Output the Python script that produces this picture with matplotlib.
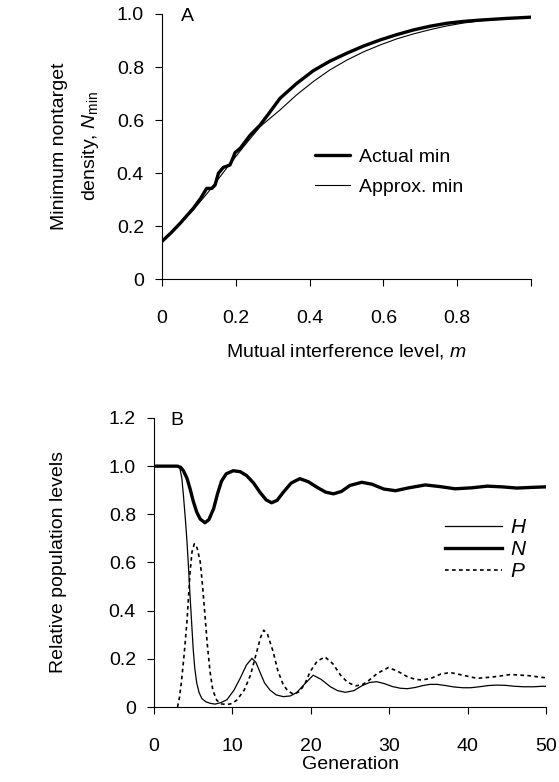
"""Two stacked panels: (A) minimum nontarget density vs mutual interference,
(B) relative population levels H, N, P over generations."""

import matplotlib

matplotlib.use("Agg")

import matplotlib.pyplot as plt  # noqa: E402
from matplotlib.ticker import FuncFormatter  # noqa: E402

plt.rcParams["font.family"] = ["Liberation Sans", "DejaVu Sans"]
plt.rcParams["mathtext.fontset"] = "custom"
plt.rcParams["mathtext.rm"] = "Liberation Sans"
plt.rcParams["mathtext.it"] = "Liberation Sans:italic"

# ---- panel A data ----
m_actual = [0.0, 0.025, 0.049, 0.085, 0.105, 0.121, 0.135, 0.144, 0.153, 0.166,
            0.184, 0.192, 0.198, 0.212, 0.239, 0.266, 0.293, 0.320, 0.365, 0.410,
            0.455, 0.501, 0.546, 0.591, 0.636, 0.682, 0.727, 0.772, 0.817, 0.862,
            0.93, 1.0]
n_actual = [0.142, 0.175, 0.210, 0.267, 0.305, 0.342, 0.342, 0.355, 0.399, 0.421,
            0.430, 0.455, 0.477, 0.493, 0.543, 0.581, 0.631, 0.682, 0.738, 0.786,
            0.822, 0.852, 0.879, 0.902, 0.922, 0.940, 0.954, 0.965, 0.972, 0.977,
            0.983, 0.988]
m_approx = [0.0, 0.04, 0.085, 0.130, 0.175, 0.221, 0.266, 0.320, 0.365, 0.410,
            0.455, 0.501, 0.546, 0.591, 0.636, 0.682, 0.727, 0.772, 0.817, 0.862,
            0.93, 1.0]
n_approx = [0.142, 0.195, 0.261, 0.336, 0.418, 0.499, 0.575, 0.638, 0.695, 0.745,
            0.789, 0.826, 0.857, 0.883, 0.906, 0.925, 0.941, 0.955, 0.966, 0.974,
            0.982, 0.988]

# ---- panel B data ----
gen_h = [0, 3.0, 3.3, 3.55, 3.75, 4.0, 4.2, 4.4, 4.6, 4.8, 5.0, 5.2, 5.45, 5.75,
         6.1, 6.6, 7.2, 7.8, 8.5, 9.3, 10.2, 11.0, 11.8, 12.5, 13.0, 13.5, 14.1,
         14.8, 15.6, 16.5, 17.4, 18.2, 19.2, 20.3, 21.3, 22.5, 23.4, 24.4, 25.5,
         26.5, 27.5, 28.4, 29.4, 30.4, 31.4, 32.3, 33.3, 34.3, 35.2, 36.1, 37.2,
         38.3, 39.4, 40.4, 41.5, 42.6, 43.7, 44.8, 46.0, 47.2, 48.4, 49.5, 50]
h_level = [1.0, 1.0, 0.99, 0.95, 0.88, 0.78, 0.69, 0.58, 0.46, 0.35, 0.24, 0.16,
           0.10, 0.06, 0.035, 0.022, 0.015, 0.012, 0.018, 0.03, 0.07, 0.12, 0.175,
           0.202, 0.185, 0.146, 0.10, 0.07, 0.05, 0.043, 0.046, 0.06, 0.095, 0.132,
           0.115, 0.084, 0.068, 0.061, 0.068, 0.088, 0.102, 0.105, 0.097, 0.085,
           0.078, 0.076, 0.081, 0.089, 0.094, 0.094, 0.089, 0.083, 0.080, 0.080,
           0.084, 0.089, 0.091, 0.090, 0.086, 0.084, 0.084, 0.086, 0.086]
gen_n = [0, 3.0, 3.4, 3.75, 4.2, 4.6, 5.0, 5.45, 5.9, 6.5, 7.0, 7.6, 8.1, 8.6, 9.2,
         10.1, 11.0, 11.8, 12.7, 13.5, 14.3, 15.0, 15.7, 16.5, 17.5, 18.6, 19.7,
         20.8, 21.9, 22.9, 23.9, 25.0, 26.5, 27.8, 29.3, 30.8, 32.5, 34.6, 36.5,
         38.4, 40.5, 42.5, 44.4, 46.3, 48.3, 50]
n_level = [1.0, 1.0, 0.995, 0.981, 0.95, 0.906, 0.855, 0.809, 0.78, 0.765, 0.778,
           0.823, 0.885, 0.937, 0.968, 0.981, 0.977, 0.961, 0.93, 0.892, 0.86,
           0.848, 0.858, 0.892, 0.93, 0.948, 0.935, 0.912, 0.892, 0.885, 0.895,
           0.92, 0.933, 0.925, 0.905, 0.898, 0.91, 0.922, 0.915, 0.906, 0.91,
           0.917, 0.914, 0.909, 0.912, 0.914]
gen_p = [3.0, 3.25, 3.5, 3.85, 4.2, 4.6, 4.85, 5.15, 5.5, 5.9, 6.2, 6.5, 6.8,
         7.15, 7.5, 8.0, 8.6, 9.3, 10.0, 10.6, 11.5, 12.3, 13.1, 13.6, 14.0, 14.5,
         15.2, 15.8, 16.5, 17.1, 17.8, 18.6, 19.3, 19.9, 20.8, 21.8, 22.8, 23.8,
         24.7, 25.7, 26.5, 27.2, 28.5, 29.9, 31.1, 32.3, 33.3, 34.2, 35.4, 36.6,
         37.8, 39.4, 41.2, 43.3, 45.5, 47.8, 50]
p_level = [0.0, 0.04, 0.105, 0.22, 0.353, 0.56, 0.645, 0.678, 0.66, 0.602,
           0.50, 0.381, 0.26, 0.146, 0.07, 0.028, 0.013, 0.01, 0.015, 0.03, 0.07,
           0.132, 0.229, 0.29, 0.319, 0.30, 0.229, 0.15, 0.091, 0.066, 0.053,
           0.065, 0.10, 0.146, 0.19, 0.208, 0.18, 0.132, 0.102, 0.088, 0.092,
           0.105, 0.14, 0.164, 0.148, 0.126, 0.115, 0.112, 0.12, 0.137, 0.143,
           0.132, 0.119, 0.125, 0.135, 0.13, 0.121]

a_xticks = [0, 0.2, 0.4, 0.6, 0.8, 1.0]
a_xticklabels = ["0", "0.2", "0.4", "0.6", "0.8", ""]
a_yticks = [0, 0.2, 0.4, 0.6, 0.8, 1.0]
b_xticks = [0, 10, 20, 30, 40, 50]
b_yticks = [0, 0.2, 0.4, 0.6, 0.8, 1.0, 1.2]

FS = 14


def _fmt(v, _pos):
    return "0" if abs(v) < 1e-9 else f"{v:.1f}"


def _style(ax):
    for side in ("top", "right"):
        ax.spines[side].set_visible(False)
    for side in ("left", "bottom"):
        ax.spines[side].set_linewidth(0.8)
    ax.tick_params(axis="both", direction="out", length=5, width=0.8, labelsize=FS)
    ax.tick_params(axis="x", pad=17)
    ax.tick_params(axis="y", pad=8)


fig = plt.figure(figsize=(5.59, 7.82), dpi=100)
ax_a = fig.add_axes([0.2898, 0.6432, 0.660, 0.3389])
ax_b = fig.add_axes([0.2755, 0.0959, 0.7013, 0.3696])

# panel A
ax_a.plot(m_actual, n_actual, color="black", lw=2.4, label="Actual min",
          solid_capstyle="round")
ax_a.plot(m_approx, n_approx, color="black", lw=0.8, label="Approx. min")
ax_a.set_xlim(0, 1.0)
ax_a.set_ylim(0, 1.0)
ax_a.set_xticks(a_xticks)
ax_a.set_xticklabels(a_xticklabels)
ax_a.set_yticks(a_yticks)
ax_a.yaxis.set_major_formatter(FuncFormatter(_fmt))
_style(ax_a)
ax_a.set_xlabel("Mutual interference level, $m$", fontsize=FS, labelpad=11)
ax_a.set_ylabel("Minimum nontarget\ndensity, $N_{\\mathrm{min}}$", fontsize=FS,
                linespacing=1.8)
ax_a.yaxis.set_label_coords(-0.165, 0.5)
ax_a.text(0.07, 0.99, "A", transform=ax_a.transAxes, fontsize=FS,
          ha="center", va="center")
ax_a.legend(frameon=False, loc="center left", bbox_to_anchor=(0.415, 0.404),
            fontsize=FS, handlelength=1.8, handletextpad=0.45, labelspacing=0.65,
            borderpad=0, borderaxespad=0)

# panel B
ax_b.plot(gen_h, h_level, color="black", lw=0.9, label="$H$")
ax_b.plot(gen_n, n_level, color="black", lw=2.4, label="$N$")
ax_b.plot(gen_p, p_level, color="black", lw=1.2, ls=(0, (2.2, 2.0)), label="$P$")
ax_b.set_xlim(0, 50)
ax_b.set_ylim(0, 1.2)
ax_b.set_xticks(b_xticks)
ax_b.set_yticks(b_yticks)
ax_b.yaxis.set_major_formatter(FuncFormatter(_fmt))
_style(ax_b)
ax_b.set_xlabel("Generation", fontsize=FS, labelpad=1)
ax_b.set_ylabel("Relative population levels", fontsize=FS)
ax_b.yaxis.set_label_coords(-0.222, 0.5)
ax_b.text(0.059, 0.99, "B", transform=ax_b.transAxes, fontsize=FS,
          ha="center", va="center")
ax_b.legend(frameon=False, loc="center left", bbox_to_anchor=(0.743, 0.545),
            fontsize=FS + 1, handlelength=2.7, handletextpad=0.4, labelspacing=0.15,
            borderpad=0, borderaxespad=0)

fig.savefig("out.png", dpi=100)
